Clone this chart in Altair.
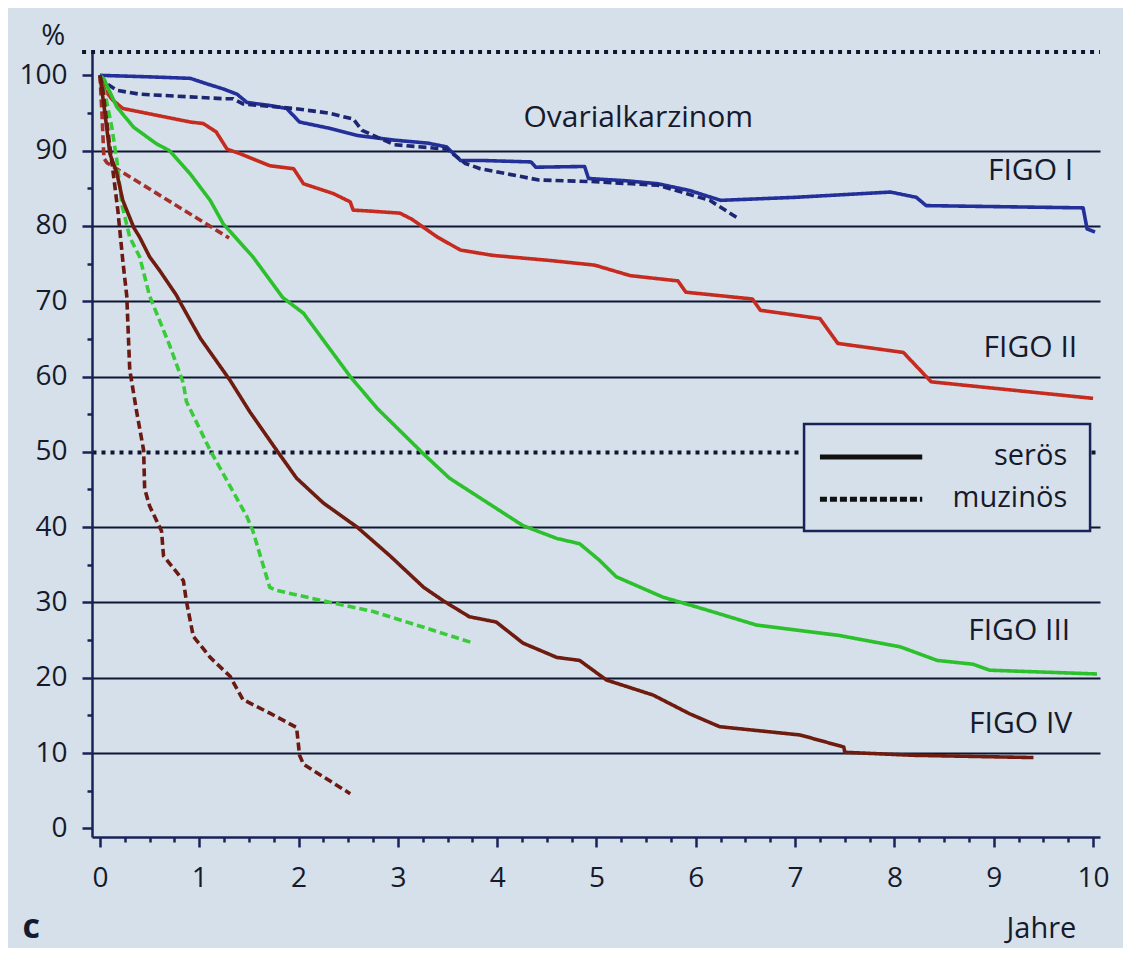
import altair as alt
import pandas as pd

# ---------------- data ----------------
# FIGO I, serös
f1s_x = [0, 0.5, 0.91, 1.07, 1.24, 1.38, 1.48, 1.71, 1.88, 2.01, 2.3, 2.6, 2.96, 3.3, 3.49, 3.63, 3.83,
         4.34, 4.39, 4.88, 4.92, 5.3, 5.62, 5.94, 6.25, 7.0, 7.96, 8.22, 8.32, 9.9, 9.94, 10.02]
f1s_y = [100, 99.8, 99.6, 98.9, 98.2, 97.5, 96.4, 96.0, 95.6, 93.8, 93.0, 92.0, 91.4, 91.0, 90.5, 88.7, 88.7,
         88.5, 87.8, 87.9, 86.3, 86.0, 85.6, 84.7, 83.4, 83.8, 84.5, 83.8, 82.7, 82.4, 79.6, 79.2]
# FIGO I, muzinös
f1m_x = [0, 0.08, 0.17, 0.40, 1.24, 1.34, 1.44, 1.95, 2.3, 2.55, 2.64, 2.96, 3.49, 3.68, 3.83,
         4.42, 4.94, 5.62, 6.14, 6.44]
f1m_y = [100, 98.8, 98.0, 97.5, 96.9, 96.9, 96.2, 95.6, 95.0, 94.2, 92.7, 90.8, 90.2, 88.3, 87.6,
         86.1, 85.9, 85.4, 83.4, 80.9]
# FIGO II, serös
f2s_x = [0, 0.05, 0.13, 0.23, 0.57, 0.91, 1.04, 1.17, 1.28, 1.41, 1.71, 1.95, 2.05, 2.35, 2.52, 2.55, 2.69,
         3.02, 3.14, 3.40, 3.63, 3.95, 4.54, 4.98, 5.34, 5.82, 5.90, 6.57, 6.65, 7.25, 7.43, 8.09, 8.37, 10.0]
f2s_y = [100, 98, 96.7, 95.6, 94.7, 93.8, 93.6, 92.5, 90.2, 89.6, 88.0, 87.6, 85.6, 84.3, 83.2, 82.1, 82.0,
         81.7, 80.9, 78.5, 76.8, 76.1, 75.4, 74.8, 73.4, 72.7, 71.2, 70.3, 68.8, 67.7, 64.4, 63.2, 59.3, 57.1]
# FIGO II, muzinös
f2m_x = [0, 0.02, 0.04, 0.07, 1.3]
f2m_y = [100, 95, 89, 88.4, 78.4]
# FIGO III, serös
f3s_x = [0, 0.04, 0.17, 0.34, 0.57, 0.70, 0.91, 1.11, 1.24, 1.54, 1.84, 2.05, 2.52, 2.79, 3.26, 3.52, 3.79,
         4.26, 4.60, 4.83, 5.03, 5.20, 5.67, 6.11, 6.61, 7.45, 8.06, 8.43, 8.79, 8.96, 10.04]
f3s_y = [100, 99.5, 95.8, 93.1, 90.9, 90.0, 86.9, 83.4, 80.3, 75.9, 70.5, 68.4, 60.0, 55.8, 49.7, 46.5, 44.2,
         40.2, 38.5, 37.8, 35.6, 33.4, 30.7, 29.0, 27.0, 25.6, 24.1, 22.3, 21.8, 21.0, 20.5]
# FIGO III, muzinös
f3m_x = [0, 0.06, 0.12, 0.17, 0.22, 0.30, 0.40, 0.50, 0.70, 0.84, 0.87, 1.11, 1.48, 1.54, 1.71, 1.78,
         2.25, 2.75, 3.26, 3.76]
f3m_y = [100, 97, 93.1, 88.7, 82.9, 78.5, 75.9, 70.7, 64.2, 59.1, 56.7, 50.2, 41.4, 39.5, 32.0, 31.6,
         30.2, 28.8, 26.7, 24.6]
# FIGO IV, serös
f4s_x = [0, 0.05, 0.10, 0.17, 0.23, 0.34, 0.40, 0.50, 0.60, 0.77, 0.81, 1.01, 1.31, 1.51, 1.78, 1.98, 2.25,
         2.59, 2.92, 3.26, 3.46, 3.72, 3.99, 4.26, 4.60, 4.83, 5.10, 5.57, 5.94, 6.24, 7.05, 7.49, 7.50, 8.19, 9.40]
f4s_y = [100, 95, 89.6, 87.0, 83.4, 79.8, 78.5, 75.9, 74.1, 70.8, 69.8, 65.1, 59.5, 55.3, 50.2, 46.5, 43.2,
         40.0, 36.2, 32.0, 30.2, 28.1, 27.4, 24.6, 22.7, 22.3, 19.7, 17.7, 15.2, 13.5, 12.4, 10.8, 10.1, 9.7, 9.4]
# FIGO IV, muzinös
f4m_x = [0, 0.02, 0.13, 0.18, 0.23, 0.27, 0.30, 0.37, 0.44, 0.45, 0.50, 0.62, 0.64, 0.84, 0.87, 0.94,
         1.11, 1.31, 1.44, 1.71, 1.98, 2.01, 2.05, 2.52]
f4m_y = [100, 99, 87.4, 82.1, 75.4, 70.7, 60.9, 55.3, 50.2, 45.1, 42.8, 39.5, 36.2, 32.9, 30.2, 25.5,
         22.7, 20.2, 17.1, 15.3, 13.4, 9.7, 8.5, 4.6]

series_names = ["FIGO I serös", "FIGO I muzinös", "FIGO II serös", "FIGO II muzinös",
                "FIGO III serös", "FIGO III muzinös", "FIGO IV serös", "FIGO IV muzinös"]
series_types = ["serös", "muzinös"] * 4
series_x = [f1s_x, f1m_x, f2s_x, f2m_x, f3s_x, f3m_x, f4s_x, f4m_x]
series_y = [f1s_y, f1m_y, f2s_y, f2m_y, f3s_y, f3m_y, f4s_y, f4m_y]
series_colors = ["#24309a", "#1c2672", "#c62b1f", "#a3302a", "#2cc02c", "#3acb3a", "#6e1c10", "#6a1a12"]

x_ticks = [i * 0.25 for i in range(41)]
y_ticks = [i * 5 for i in range(21)]

annot_text = ["FIGO I", "FIGO II", "FIGO III", "FIGO IV"]
annot_x = [9.80, 9.84, 9.77, 9.79]
annot_y = [86.1, 62.6, 25.0, 12.7]
title_text = ["Ovarialkarzinom"]
title_x = [5.42]
title_y = [93.1]

legend_labels = ["serös", "muzinös"]
legend_y = [49.3, 43.7]
legend_text_y = [48.3, 42.7]

# ---------------- styling ----------------
BG = "#d6e0ea"
AX = "#1a2358"
GRID = "#0e1633"
TXT = "#151a2c"
FONT = "Open Sans"
X_DOM = [-0.08, 10.07]
Y_DOM = [-1.15, 103.1]

rows = []
for name, typ, xs, ys in zip(series_names, series_types, series_x, series_y):
    for i, (xv, yv) in enumerate(zip(xs, ys)):
        rows.append({"series": name, "typ": typ, "idx": i, "year": xv, "pct": yv})
df = pd.DataFrame(rows)

xscale = alt.Scale(domain=X_DOM, nice=False, zero=False)
yscale = alt.Scale(domain=Y_DOM, nice=False, zero=False)
dash_scale = alt.Scale(domain=["serös", "muzinös"], range=[[1, 0], [8, 4]])

xaxis = alt.Axis(
    values=x_ticks, title=None, grid=False,
    labelExpr="datum.value % 1 === 0 ? format(datum.value, 'd') : ''",
    tickSize={"condition": {"test": "datum.value % 1 === 0", "value": 10}, "value": 5},
    tickWidth=2.5, tickColor=AX, domainColor=AX, domainWidth=2.5,
    labelFont=FONT, labelFontSize=28, labelColor=TXT, labelPadding=17,
    labelOverlap=False, labelFlush=False, labelBound=False,
)
yaxis = alt.Axis(
    values=y_ticks, title=None, grid=True,
    labelExpr="datum.value % 10 === 0 ? format(datum.value, 'd') : ''",
    tickSize={"condition": {"test": "datum.value % 10 === 0", "value": 10}, "value": 5},
    tickWidth=2.5, tickColor=AX, domainColor=AX, domainWidth=2.5,
    gridColor=GRID,
    gridOpacity={"condition": {"test": "datum.value % 10 === 0 && datum.value > 0 && datum.value < 100", "value": 1}, "value": 0},
    gridDash={"condition": {"test": "datum.value === 50", "value": [4, 5]}, "value": []},
    gridWidth={"condition": {"test": "datum.value === 50", "value": 4}, "value": 2.2},
    labelFont=FONT, labelFontSize=28, labelColor=TXT, labelPadding=15,
    labelOverlap=False, labelFlush=False, labelBound=False,
)


def X(field):
    return alt.X(field, type="quantitative", scale=xscale, axis=xaxis, title=None)


def Y(field):
    return alt.Y(field, type="quantitative", scale=yscale, axis=yaxis, title=None)


lines = alt.Chart(df).mark_line(strokeWidth=3.6, strokeJoin="round").encode(
    x=X("year"),
    y=Y("pct"),
    color=alt.Color("series:N", scale=alt.Scale(domain=series_names, range=series_colors), legend=None),
    strokeDash=alt.StrokeDash("typ:N", scale=dash_scale, legend=None),
    order=alt.Order("idx:Q"),
    detail="series:N",
)

top_df = pd.DataFrame({"x1": [-0.18], "x2": [X_DOM[1]], "y": [Y_DOM[1]]})
top_line = alt.Chart(top_df).mark_rule(
    color=GRID, strokeWidth=4, strokeDash=[4, 5]
).encode(x=X("x1"), x2="x2:Q", y=Y("y"))

ann = alt.Chart(pd.DataFrame({"t": annot_text, "x": annot_x, "y": annot_y})).mark_text(
    align="right", baseline="alphabetic", font=FONT, fontSize=30, color=TXT
).encode(x=X("x"), y=Y("y"), text="t:N")

ttl = alt.Chart(pd.DataFrame({"t": title_text, "x": title_x, "y": title_y})).mark_text(
    align="center", baseline="alphabetic", font=FONT, fontSize=30, color=TXT
).encode(x=X("x"), y=Y("y"), text="t:N")

outer = alt.Chart(pd.DataFrame({"t": ["%", "Jahre"], "x": [-0.47, 9.48], "y": [104.0, -14.6]})).mark_text(
    align="center", baseline="alphabetic", font=FONT, fontSize=29, color=TXT
).encode(x=X("x"), y=Y("y"), text="t:N")

panel = alt.Chart(pd.DataFrame({"t": ["c"], "x": [-0.78], "y": [-14.6]})).mark_text(
    align="left", baseline="alphabetic", font=FONT, fontSize=34, fontWeight="bold", color=TXT
).encode(x=X("x"), y=Y("y"), text="t:N")

# legend box
box = alt.Chart(pd.DataFrame({"x1": [7.09], "x2": [9.97], "y1": [53.7], "y2": [39.5]})).mark_rect(
    fill=BG, stroke=AX, strokeWidth=2.5
).encode(x=X("x1"), x2="x2:Q", y=Y("y1"), y2="y2:Q")

leg_df = pd.DataFrame({"typ": legend_labels, "x1": [7.25, 7.25], "x2": [8.28, 8.28],
                       "y": legend_y, "ty": legend_text_y, "tx": [9.74, 9.74]})
leg_lines = alt.Chart(leg_df).mark_rule(strokeWidth=5, color="#111111").encode(
    x=X("x1"), x2="x2:Q", y=Y("y"),
    strokeDash=alt.StrokeDash("typ:N", scale=alt.Scale(domain=["serös", "muzinös"], range=[[1, 0], [7, 3]]), legend=None),
)
leg_text = alt.Chart(leg_df).mark_text(
    align="right", baseline="alphabetic", font=FONT, fontSize=29, color=TXT
).encode(x=X("tx"), y=Y("ty"), text="typ:N")

chart = alt.layer(lines, top_line, ttl, ann, outer, panel, box, leg_lines, leg_text).properties(
    width=1008, height=785,
    padding={"left": 84, "top": 44, "right": 23, "bottom": 111},
    autosize=alt.AutoSizeParams(type="none"),
    background=BG,
).resolve_scale(strokeDash="independent").configure_view(strokeWidth=0)

chart.save("out.html", embed_options={"renderer": "svg", "actions": False})
